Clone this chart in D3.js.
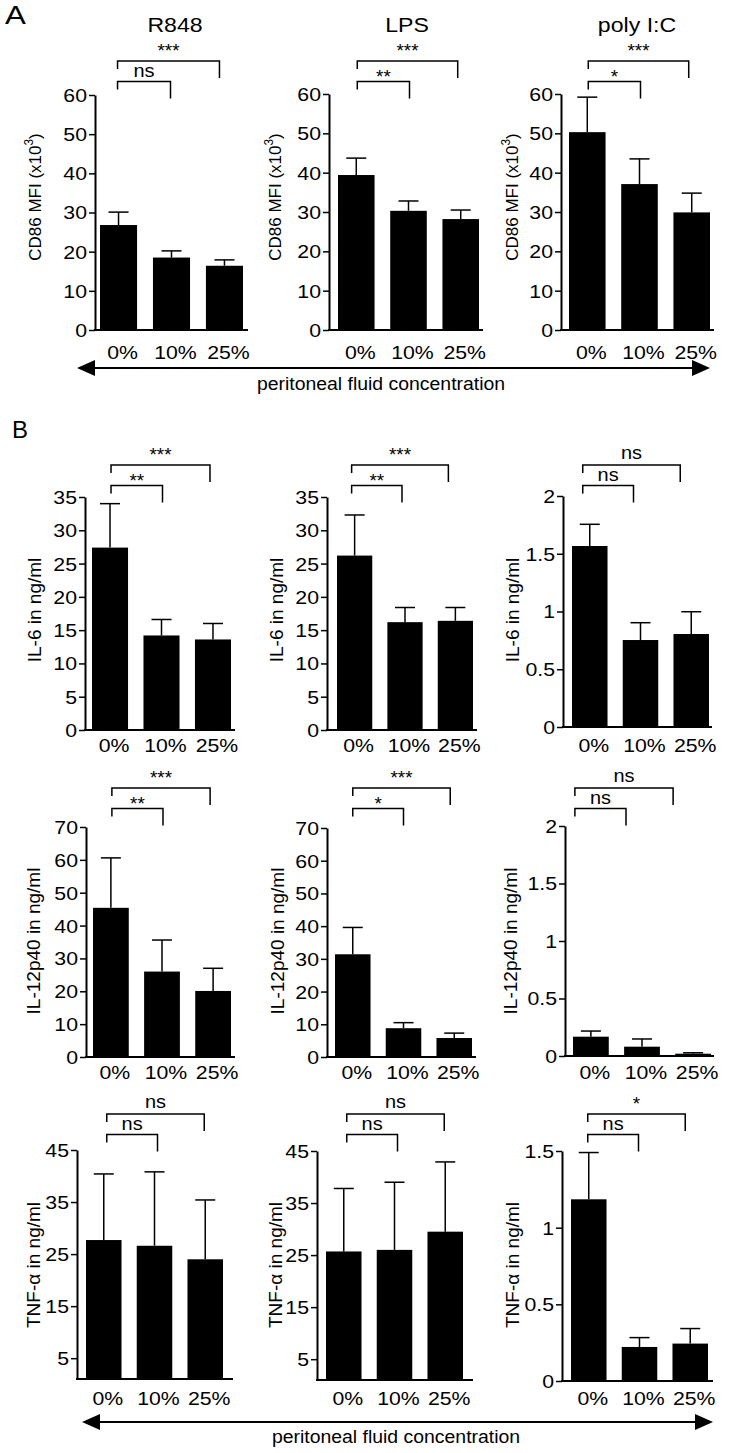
<!DOCTYPE html>
<html><head><meta charset="utf-8">
<script src="https://cdn.jsdelivr.net/npm/d3@7"></script>
<style>
body{margin:0;background:#fff}
svg{display:block}
text{font-family:"Liberation Sans",Arial,Helvetica,sans-serif;fill:#000}
</style>
</head><body>
<svg id="c" width="732" height="1453"></svg>
<script>
// ---------- DATA ----------
const categories = ["0%", "10%", "25%"];
const stimuli = ["R848", "LPS", "poly I:C"];

const cd86Mean = [[26.8, 18.5, 16.4], [39.4, 30.3, 28.2], [50.3, 37.1, 29.9]];
const cd86Err  = [[3.3, 1.7, 1.5], [4.3, 2.5, 2.3], [8.9, 6.4, 4.9]];

const il6Mean  = [[27.4, 14.2, 13.6], [26.2, 16.2, 16.4], [1.567, 0.753, 0.805]];
const il6Err   = [[6.6, 2.4, 2.4], [6.1, 2.2, 2.0], [0.188, 0.15, 0.193]];

const il12Mean = [[45.4, 26.0, 20.1], [31.4, 8.8, 5.8], [0.168, 0.081, 0.02]];
const il12Err  = [[15.2, 9.6, 6.9], [8.2, 1.7, 1.5], [0.049, 0.067, 0.008]];

const tnfMean  = [[27.7, 26.6, 24.0], [25.7, 26.0, 29.5], [1.185, 0.222, 0.244]];
const tnfErr   = [[12.7, 14.2, 11.4], [12.1, 13.0, 13.4], [0.305, 0.061, 0.098]];

// significance labels: [0% vs 10%, 0% vs 25%]
const sigCD86 = [["ns", "***"], ["**", "***"], ["*", "***"]];
const sigIL6  = [["**", "***"], ["**", "***"], ["ns", "ns"]];
const sigIL12 = [["**", "***"], ["*", "***"], ["ns", "ns"]];
const sigTNF  = [["ns", "ns"], ["ns", "ns"], ["ns", "*"]];

const ticksCD86 = [0, 10, 20, 30, 40, 50, 60];
const ticksIL6  = [0, 5, 10, 15, 20, 25, 30, 35];
const ticksIL12 = [0, 10, 20, 30, 40, 50, 60, 70];
const ticksTNF  = [5, 15, 25, 35, 45];
const ticksPoly2  = [0, 0.5, 1, 1.5, 2];
const ticksPoly15 = [0, 0.5, 1, 1.5];

const yLabels = ["CD86 MFI (x10|3|)", "IL-6 in ng/ml", "IL-12p40 in ng/ml", "TNF-α in ng/ml"];
const panelLetters = ["A", "B"];
const axisCaption = "peritoneal fluid concentration";

// ---------- LAYOUT ----------
const SX = 1.12;
const rows = [
  {mean: cd86Mean, err: cd86Err, sig: sigCD86, ylab: yLabels[0], labFont: 17,
   ticks: [ticksCD86, ticksCD86, ticksCD86], dom: [[0, 60], [0, 60], [0, 60]],
   yBase: [330, 330, 330], yTop: [95, 94, 94], axisX: [95, 329, 561],
   bx0: [100, 338, 569], bx1: [243, 479, 710], right: [248, 483, 714],
   labX: [35, 275, 512], labY: 197, xlabY: 359, brTop: 61, brLow: 81.5, brShift: [-1, 1, 1]},
  {mean: il6Mean, err: il6Err, sig: sigIL6, ylab: yLabels[1], labFont: 19,
   ticks: [ticksIL6, ticksIL6, ticksPoly2], dom: [[0, 35], [0, 35], [0, 2]],
   yBase: [730, 730, 727], yTop: [497, 497, 496], axisX: [85, 327, 563],
   bx0: [92, 337, 572], bx1: [231, 473, 709], right: [235, 477, 712],
   labX: [34, 276, 512], labY: 610, xlabY: 752, brTop: 465, brLow: 485.5, brShift: [1, -3, -7]},
  {mean: il12Mean, err: il12Err, sig: sigIL12, ylab: yLabels[2], labFont: 19,
   ticks: [ticksIL12, ticksIL12, ticksPoly2], dom: [[0, 70], [0, 70], [0, 2]],
   yBase: [1057, 1057, 1056], yTop: [827, 828, 826], axisX: [86, 327, 565],
   bx0: [93, 335, 573], bx1: [231, 472, 711], right: [235, 476, 714],
   labX: [33, 277, 510], labY: 941, xlabY: 1079, brTop: 788, brLow: 808.5, brShift: [1, 0, -16]},
  {mean: tnfMean, err: tnfErr, sig: sigTNF, ylab: yLabels[3], labFont: 19,
   ticks: [ticksTNF, ticksTNF, ticksPoly15], dom: [[1, 45], [1, 45], [0, 1.5]],
   yBase: [1379, 1380, 1381], yTop: [1150, 1151, 1151], axisX: [77, 317, 562],
   bx0: [86, 326, 571], bx1: [223, 463, 708], right: [233, 473, 713],
   labX: [33, 275, 512], labY: 1265, xlabY: 1405, brTop: 1114, brLow: 1134.5, brShift: [3, 3, -1]}
];

const svg = d3.select("#c");

function stext(g, x, y, s, size, anchor, sx) {
  return g.append("g").attr("transform", `translate(${x},${y}) scale(${sx || SX},1)`)
    .append("text").attr("text-anchor", anchor || "middle").attr("font-size", size).text(s);
}

rows.forEach((r, ri) => {
  for (let c = 0; c < 3; c++) {
    const g = svg.append("g");
    const y = d3.scaleLinear().domain(r.dom[c]).range([r.yBase[c], r.yTop[c]]);
    const x = d3.scaleBand().domain(categories).range([r.bx0[c], r.bx1[c]])
      .paddingInner(0.3).paddingOuter(0);
    const bw = x.bandwidth();

    // bars
    g.selectAll("rect.bar").data(categories).join("rect")
      .attr("x", d => x(d)).attr("width", bw)
      .attr("y", (d, i) => y(r.mean[c][i]))
      .attr("height", (d, i) => y.range()[0] - y(r.mean[c][i]))
      .attr("fill", "#000");

    // error bars (upper)
    categories.forEach((d, i) => {
      const cx = x(d) + bw / 2;
      const m = r.mean[c][i], e = r.err[c][i];
      g.append("line").attr("x1", cx).attr("x2", cx).attr("y1", y(m)).attr("y2", y(m + e))
        .attr("stroke", "#000").attr("stroke-width", 1.5);
      g.append("line").attr("x1", cx - 10).attr("x2", cx + 10).attr("y1", y(m + e)).attr("y2", y(m + e))
        .attr("stroke", "#000").attr("stroke-width", 1.5);
    });

    // y axis
    const ax = g.append("g").attr("transform", `translate(${r.axisX[c]},0)`)
      .call(d3.axisLeft(y).tickValues(r.ticks[c]).tickSize(6).tickSizeOuter(0).tickPadding(2)
        .tickFormat(d => String(d)));
    ax.select(".domain").attr("stroke-width", 2);
    ax.selectAll(".tick line").attr("stroke-width", 1.5);
    ax.selectAll(".tick text").attr("font-size", 19).attr("font-family", null)
      .attr("transform", `scale(${SX},1)`).attr("x", -8 / SX).attr("dy", "0.34em");

    // x axis line
    g.append("line").attr("x1", r.axisX[c] - 1).attr("x2", r.right[c])
      .attr("y1", r.yBase[c]).attr("y2", r.yBase[c]).attr("stroke", "#000").attr("stroke-width", 2);

    // x labels
    categories.forEach(d => {
      stext(g, x(d) + bw / 2 + 4, r.xlabY, d, 19, "middle");
    });

    // y label (with optional superscript marked by |...|)
    const parts = r.ylab.split("|");
    const t = g.append("text").attr("transform", `translate(${r.labX[c]},${r.labY}) rotate(-90)`)
      .attr("text-anchor", "middle").attr("dominant-baseline", "central")
      .attr("font-size", r.labFont);
    parts.forEach((p, k) => {
      if (k % 2 === 1) t.append("tspan").attr("font-size", r.labFont * 0.7).attr("dy", -6).text(p);
      else t.append("tspan").attr("dy", k > 0 ? 6 : 0).text(p);
    });

    // significance brackets
    const cx0 = x(categories[0]) + bw / 2 + r.brShift[c];
    const cx1 = x(categories[1]) + bw / 2 + r.brShift[c];
    const cx2 = x(categories[2]) + bw / 2 + r.brShift[c] - 4;
    const br = (xa, xb, yy) => {
      g.append("path").attr("d", `M${xa},${yy + 8}V${yy}H${xb}V${yy + 17}`)
        .attr("fill", "none").attr("stroke", "#000").attr("stroke-width", 1.5);
    };
    br(cx0, cx2, r.brTop);
    br(cx0, cx1, r.brLow);
    const lab = (s, xc, yy, top) => {
      const isStar = s.indexOf("*") >= 0;
      let base;
      if (isStar) base = top ? yy - 4 : yy + 1.4;
      else base = top ? yy - 6.5 : yy - 4.5;
      stext(g, xc, base, s, isStar ? 18 : 19, "middle", 1.05);
    };
    lab(r.sig[c][1], (cx0 + cx2) / 2, r.brTop, true);
    lab(r.sig[c][0], (cx0 + cx1) / 2, r.brLow, false);

    // titles (row A)
    if (ri === 0) {
      const tx = [175, 407, 637][c];
      stext(svg, tx, 32, stimuli[c], 21, "middle", 1.1);
    }
  }
});

// panel letters
stext(svg, 5, 24, panelLetters[0], 25, "start", 1.25);
stext(svg, 12, 438, panelLetters[1], 24, "start", 1.0);

// arrows with caption
function arrow(yy, xl, xr, capX, capY) {
  const g = svg.append("g");
  g.append("line").attr("x1", xl + 16).attr("x2", xr - 16).attr("y1", yy).attr("y2", yy)
    .attr("stroke", "#000").attr("stroke-width", 2);
  g.append("path").attr("d", `M${xl},${yy}L${xl + 18},${yy - 8}L${xl + 18},${yy + 8}Z`).attr("fill", "#000");
  g.append("path").attr("d", `M${xr},${yy}L${xr - 18},${yy - 8}L${xr - 18},${yy + 8}Z`).attr("fill", "#000");
  stext(g, capX, capY, axisCaption, 18.5, "middle", 1.05);
}
arrow(368, 77, 710, 381, 390);
arrow(1422, 82, 713, 396, 1443);
</script>
</body></html>
